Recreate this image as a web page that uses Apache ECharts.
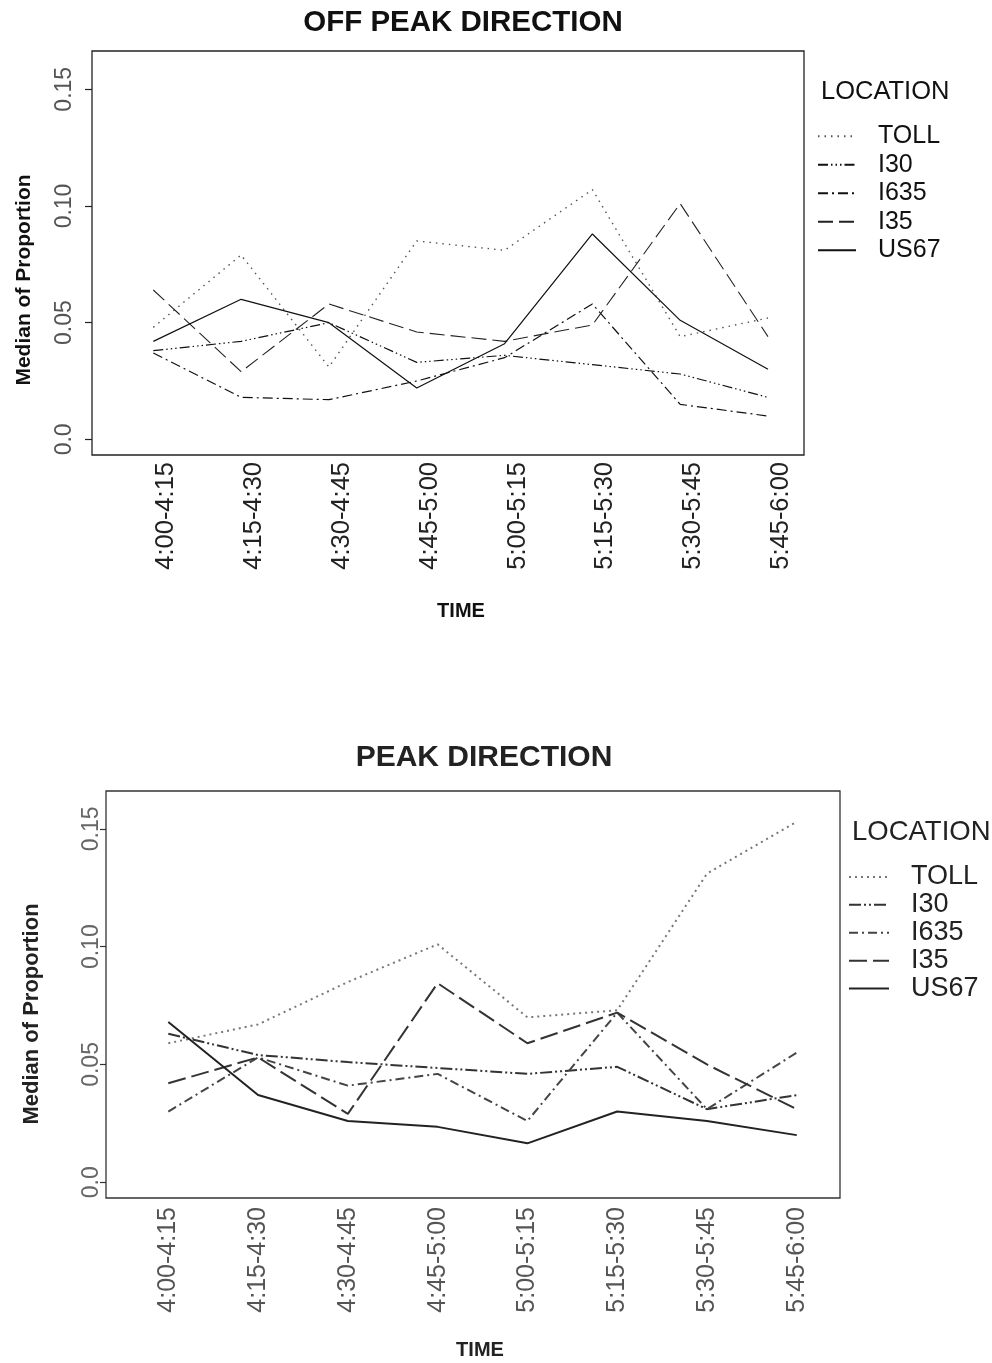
<!DOCTYPE html>
<html>
<head>
<meta charset="utf-8">
<title>Median of Proportion by Time and Location</title>
<script src="https://cdn.jsdelivr.net/npm/echarts@6/dist/echarts.min.js"></script>
<style>
  html, body { margin: 0; padding: 0; background: #fff; }
  #offPeak { position: absolute; left: 0; top: 0; width: 992px; height: 680px; }
  #peak { position: absolute; left: 0; top: 680px; width: 992px; height: 683px; filter: blur(0.5px); }
</style>
</head>
<body>
<div id="offPeak"></div>
<div id="peak"></div>
<script>
// Fifteen-minute periods on the x axis
const timeSlots = ['4:00-4:15', '4:15-4:30', '4:30-4:45', '4:45-5:00',
                   '5:00-5:15', '5:15-5:30', '5:30-5:45', '5:45-6:00'];
const locations = ['TOLL', 'I30', 'I635', 'I35', 'US67'];

// Y axis ticks and their labels
const yTicks = [0, 0.05, 0.10, 0.15];
const yTickLabels = ['0.0', '0.05', '0.10', '0.15'];

// Off peak direction: median of proportion per period
const offPeakToll = [0.048, 0.079, 0.031, 0.085, 0.081, 0.107, 0.044, 0.052];
const offPeakI30  = [0.038, 0.042, 0.050, 0.033, 0.036, 0.032, 0.028, 0.018];
const offPeakI635 = [0.037, 0.018, 0.017, 0.025, 0.035, 0.058, 0.015, 0.010];
const offPeakI35  = [0.064, 0.029, 0.058, 0.046, 0.042, 0.049, 0.101, 0.044];
const offPeakUS67 = [0.042, 0.060, 0.050, 0.022, 0.041, 0.088, 0.051, 0.030];

// Peak direction: median of proportion per period
const peakToll = [0.059, 0.067, 0.085, 0.101, 0.070, 0.073, 0.131, 0.153];
const peakI30  = [0.063, 0.054, 0.051, 0.0485, 0.046, 0.049, 0.031, 0.037];
const peakI635 = [0.030, 0.053, 0.041, 0.046, 0.026, 0.072, 0.031, 0.055];
const peakI35  = [0.042, 0.053, 0.029, 0.0845, 0.059, 0.072, 0.050, 0.031];
const peakUS67 = [0.068, 0.037, 0.026, 0.0235, 0.0165, 0.030, 0.026, 0.020];

const FONT = "'Liberation Sans', Arial, Helvetica, sans-serif";
const slotPositions = timeSlots.map((_, i) => i + 1);

function toPoints(values) {
  return values.map((v, i) => [i + 1, v]);
}

function buildOption(cfg) {
  const seriesValues = [cfg.toll, cfg.i30, cfg.i635, cfg.i35, cfg.us67];
  const series = locations.map((name, k) => ({
    name: name,
    type: 'line',
    symbol: 'none',
    silent: true,
    data: toPoints(seriesValues[k]),
    itemStyle: { color: cfg.lineStyles[k].color },
    lineStyle: {
      color: cfg.lineStyles[k].color,
      width: cfg.lineStyles[k].width,
      type: cfg.lineStyles[k].dash,
      cap: 'butt'
    }
  }));

  return {
    animation: false,
    backgroundColor: '#fff',
    grid: {
      show: true,
      left: cfg.grid.left, top: cfg.grid.top,
      width: cfg.grid.width, height: cfg.grid.height,
      borderColor: cfg.frameColor, borderWidth: 1.3,
      backgroundColor: 'transparent'
    },
    xAxis: {
      type: 'value',
      min: cfg.xMin, max: cfg.xMax,
      axisLine: { show: false },
      splitLine: { show: false },
      axisTick: { show: false, customValues: slotPositions },
      axisLabel: {
        customValues: slotPositions,
        rotate: 90,
        margin: cfg.xLabelMargin,
        verticalAlign: cfg.xLabelVAlign,
        fontFamily: FONT,
        fontSize: cfg.xLabelSize,
        color: cfg.xLabelColor,
        formatter: v => timeSlots[Math.round(v) - 1]
      }
    },
    yAxis: {
      type: 'value',
      min: cfg.yMin, max: cfg.yMax,
      axisLine: { show: false },
      splitLine: { show: false },
      axisTick: {
        show: true, length: cfg.tickLength, customValues: yTicks,
        lineStyle: { color: cfg.frameColor, width: 1.2 }
      },
      axisLabel: {
        customValues: yTicks,
        rotate: 90,
        margin: cfg.yLabelMargin,
        fontFamily: FONT,
        fontSize: cfg.yLabelSize,
        color: cfg.yLabelColor,
        formatter: v => yTickLabels[yTicks.findIndex(t => Math.abs(t - v) < 1e-9)]
      }
    },
    legend: {
      orient: 'vertical',
      left: cfg.legend.left, top: cfg.legend.top,
      padding: 0,
      itemGap: 0,
      itemWidth: cfg.legend.itemWidth,
      itemHeight: 12,
      selectedMode: false,
      data: locations,
      // line samples only, no marker in the middle
      itemStyle: { opacity: 0 },
      textStyle: {
        fontFamily: FONT,
        fontSize: cfg.legend.fontSize,
        lineHeight: cfg.legend.lineHeight,
        color: cfg.legend.color,
        padding: [0, 0, 0, 17]
      }
    },
    graphic: [
      {
        type: 'text', x: cfg.title.x, y: cfg.title.y,
        style: {
          text: cfg.title.text, align: 'center', verticalAlign: 'middle',
          font: 'bold ' + cfg.title.size + 'px ' + FONT, fill: cfg.title.color
        }
      },
      {
        type: 'text', x: cfg.locationTitle.x, y: cfg.locationTitle.y,
        style: {
          text: 'LOCATION', align: 'left', verticalAlign: 'middle',
          font: cfg.locationTitle.size + 'px ' + FONT, fill: cfg.legend.color
        }
      },
      {
        type: 'text', x: cfg.yName.x, y: cfg.yName.y, rotation: Math.PI / 2,
        style: {
          text: 'Median of Proportion', align: 'center', verticalAlign: 'middle',
          font: 'bold ' + cfg.yName.size + 'px ' + FONT, fill: cfg.title.color
        }
      },
      {
        type: 'text', x: cfg.xName.x, y: cfg.xName.y,
        style: {
          text: 'TIME', align: 'center', verticalAlign: 'middle',
          font: 'bold ' + cfg.xName.size + 'px ' + FONT, fill: cfg.title.color
        }
      }
    ],
    series: series
  };
}

const offPeakChart = echarts.init(document.getElementById('offPeak'), null, { renderer: 'canvas' });
offPeakChart.setOption(buildOption({
  toll: offPeakToll, i30: offPeakI30, i635: offPeakI635, i35: offPeakI35, us67: offPeakUS67,
  grid: { left: 92, top: 51, width: 712, height: 404 },
  frameColor: '#222',
  xMin: 0.302, xMax: 8.41,
  yMin: -0.0067, yMax: 0.1664,
  tickLength: 7,
  xLabelMargin: 7, xLabelVAlign: 'top', xLabelSize: 25.5, xLabelColor: '#222',
  yLabelMargin: 16, yLabelSize: 23, yLabelColor: '#555',
  lineStyles: [
    { color: '#555', width: 1.4, dash: [1.5, 5] },
    { color: '#111', width: 1.2, dash: [10, 3, 1.5, 3, 1.5, 3, 1.5, 3] },
    { color: '#111', width: 1.2, dash: [10, 4, 2, 4] },
    { color: '#222', width: 1.1, dash: [15, 6] },
    { color: '#111', width: 1.2, dash: 'solid' }
  ],
  legend: { left: 817, top: 122, itemWidth: 38, fontSize: 25, lineHeight: 28.5, color: '#111' },
  title: { text: 'OFF PEAK DIRECTION', x: 463, y: 23, size: 29.5, color: '#111' },
  locationTitle: { x: 821, y: 92, size: 25.5 },
  yName: { x: 24, y: 280, size: 21 },
  xName: { x: 461, y: 611, size: 20 }
}));

const peakChart = echarts.init(document.getElementById('peak'), null, { renderer: 'canvas' });
peakChart.setOption(buildOption({
  toll: peakToll, i30: peakI30, i635: peakI635, i35: peakI35, us67: peakUS67,
  grid: { left: 106, top: 111, width: 734, height: 407 },
  frameColor: '#333',
  xMin: 0.306, xMax: 8.482,
  yMin: -0.0067, yMax: 0.1661,
  tickLength: 6,
  xLabelMargin: 9, xLabelVAlign: 'middle', xLabelSize: 25, xLabelColor: '#555',
  yLabelMargin: 3, yLabelSize: 23, yLabelColor: '#666',
  lineStyles: [
    { color: '#777', width: 2, dash: [2, 4] },
    { color: '#333', width: 2, dash: [12, 3, 2, 3, 2, 3] },
    { color: '#444', width: 2, dash: [9, 4, 2, 4] },
    { color: '#333', width: 2, dash: [18, 6] },
    { color: '#222', width: 2, dash: 'solid' }
  ],
  legend: { left: 848, top: 183, itemWidth: 40, fontSize: 27, lineHeight: 27.9, color: '#222' },
  title: { text: 'PEAK DIRECTION', x: 484, y: 78, size: 30, color: '#222' },
  locationTitle: { x: 852, y: 152, size: 27.5 },
  yName: { x: 32, y: 334, size: 22 },
  xName: { x: 480, y: 670, size: 20 }
}));
</script>
</body>
</html>
